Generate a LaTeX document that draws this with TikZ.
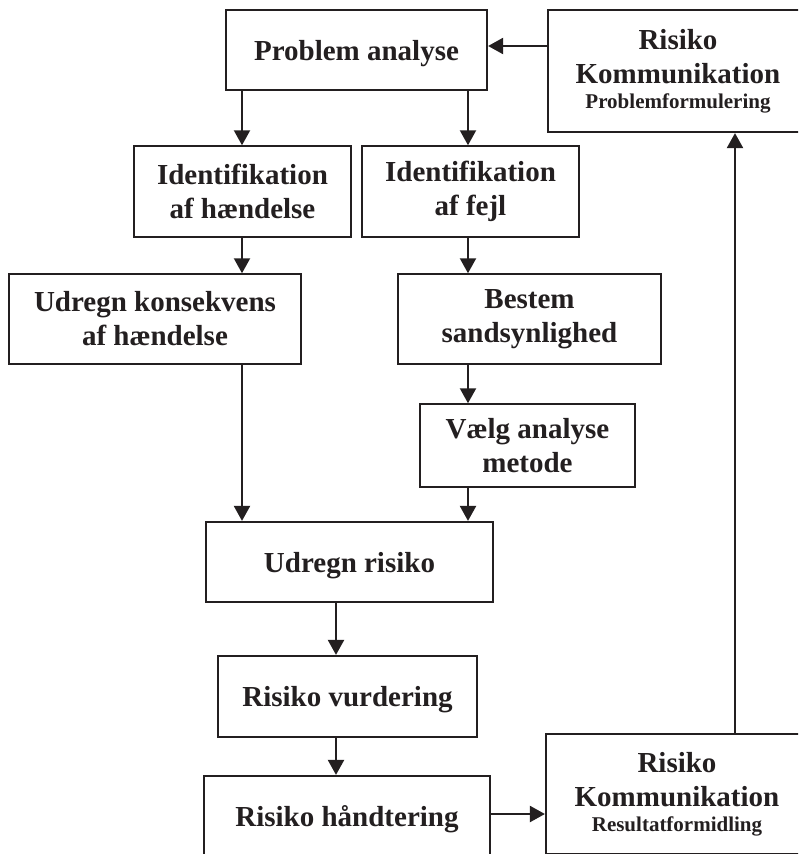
\documentclass[tikz,border=0pt]{standalone}
\usepackage{fontspec}
\setmainfont{Liberation Serif}
\usetikzlibrary{arrows.meta}
\definecolor{ink}{HTML}{231F20}
\begin{document}
\begin{tikzpicture}[x=1pt,y=-1pt,
  boxbase/.style={draw=ink, text=ink, align=center, inner sep=0pt,
    font=\bfseries\fontsize{29}{34}\selectfont},
  thickbox/.style={boxbase, line width=2.2pt},
  thinbox/.style={boxbase, line width=1.5pt},
  oneline/.style={text depth=0pt},
  arr/.style={draw=ink, line width=2.2pt, -{Triangle[length=15pt,width=16pt]}}]
\clip (0,0) rectangle (798,854);
\fill[white] (0,0) rectangle (798,854);
% columns / rows
\coordinate (colA) at (242,0);
\coordinate (colB) at (468,0);
\coordinate (colC) at (336,0);
\coordinate (colD) at (735,0);
\coordinate (rowA) at (0,46);
\coordinate (rowB) at (0,814);
% boxes
\node[thickbox, oneline, minimum width=261pt, minimum height=80pt] (pa) at (356.5,50) {Problem analyse};
\node[thickbox, minimum width=260pt, minimum height=122pt] (rk1) at (678,71)
  {Risiko\\Kommunikation\\[-9pt]{\fontsize{21}{25}\selectfont Problemformulering}};
\node[thinbox, minimum width=217pt, minimum height=91pt] (ih) at (242.5,191.5) {Identifikation\\af hændelse};
\node[thinbox, minimum width=217pt, minimum height=91pt] (if) at (470.5,191.5) {Identifikation\\af fejl};
\node[thinbox, minimum width=292pt, minimum height=90pt] (uk) at (155,319) {Udregn konsekvens\\af hændelse};
\node[thinbox, minimum width=263pt, minimum height=90pt] (bs) at (529.5,319) {Bestem\\sandsynlighed};
\node[thinbox, minimum width=215pt, minimum height=83pt] (va) at (527.5,445.5) {Vælg analyse\\metode};
\node[thickbox, oneline, minimum width=287pt, minimum height=80pt] (ur) at (349.5,562) {Udregn risiko};
\node[thickbox, oneline, minimum width=259pt, minimum height=81pt] (rv) at (347.5,696.5) {Risiko vurdering};
\node[thickbox, oneline, minimum width=286pt, minimum height=79pt] (rh) at (347,815.5) {Risiko håndtering};
\node[thickbox, minimum width=262pt, minimum height=120pt] (rk2) at (677,794)
  {Risiko\\Kommunikation\\[-9pt]{\fontsize{21}{25}\selectfont Resultatformidling}};
% connectors
\draw[arr] (pa.south -| colA) -- (ih.north -| colA);
\draw[arr] (pa.south -| colB) -- (if.north -| colB);
\draw[arr] (rk1.west |- rowA) -- (pa.east |- rowA);
\draw[arr] (ih.south -| colA) -- (uk.north -| colA);
\draw[arr] (uk.south -| colA) -- (ur.north -| colA);
\draw[arr] (if.south -| colB) -- (bs.north -| colB);
\draw[arr] (bs.south -| colB) -- (va.north -| colB);
\draw[arr] (va.south -| colB) -- (ur.north -| colB);
\draw[arr] (ur.south -| colC) -- (rv.north -| colC);
\draw[arr] (rv.south -| colC) -- (rh.north -| colC);
\draw[arr] (rh.east |- rowB) -- (rk2.west |- rowB);
\draw[arr] (rk2.north -| colD) -- (rk1.south -| colD);
\end{tikzpicture}
\end{document}
